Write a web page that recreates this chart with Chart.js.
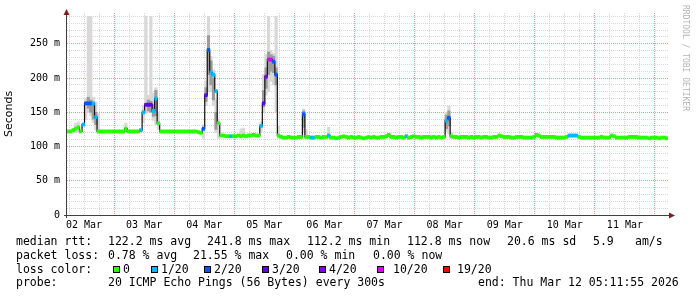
<!DOCTYPE html>
<html>
<head>
<meta charset="utf-8">
<script src="https://cdn.jsdelivr.net/npm/chart.js@4.4.1/dist/chart.umd.min.js"></script>
<style>
body{margin:0;background:#fff;}
#wrap{position:relative;width:697px;height:297px;font-family:'DejaVu Sans Mono',monospace;color:#000;overflow:hidden;}
#wrap canvas{position:absolute;left:0;top:0;}
.t{position:absolute;font-size:11.5px;line-height:13px;white-space:pre;}
.box{position:absolute;width:5px;height:5px;border:1px solid #000;}
#credit{position:absolute;left:681px;top:5px;writing-mode:vertical-rl;font-size:8px;line-height:9px;color:#b4b4b4;white-space:pre;}
</style>
</head>
<body>
<div id="wrap">
  <canvas id="SmokeChart" width="697" height="297"></canvas>
  <div id="credit">RRDTOOL / TOBI OETIKER</div>
</div>
<script>
// one slot = 1 hour, slot 0 starts Mon Mar 02 05:12
const median = [
  122,122,124,126,128,122,132,163,163,163,163,143,122,122,122,122,122,122,122,122,122,122,122,126,
  122,122,122,122,122,124,150,161,161,161,152,170,134,122,122,122,122,122,122,122,122,122,122,122,
  122,122,122,122,121,120,126,175,241,208,205,181,134,116,116,115,115,115,115,115,116,115,116,115,
  116,116,117,116,116,130,163,202,227,227,224,205,116,114,113,113,114,113,113,113,114,114,147,114,
  114,113,113,114,114,113,114,114,116,113,113,112,113,114,115,114,113,114,113,113,114,113,112,113,
  114,113,114,113,113,114,114,115,117,114,114,113,114,114,113,115,113,114,115,114,114,113,114,114,
  114,113,114,113,114,113,114,138,142,115,114,114,113,114,114,114,113,114,113,114,114,113,114,114,
  113,113,114,114,116,115,114,114,114,113,113,114,114,114,113,113,113,113,114,117,116,114,114,114,
  114,114,114,113,113,113,113,114,116,116,116,116,114,113,113,113,113,113,113,113,113,114,113,113,
  113,116,115,113,113,113,113,113,114,114,114,114,113,113,113,113,112,113,113,113,112,113,113,112
];

// lost pings out of 20 per slot
const loss = [
  0,0,0,0,0,0,1,2,2,2,1,1,0,0,0,0,0,0,0,0,0,0,0,0,
  0,0,0,0,0,1,1,3,3,3,1,1,0,0,0,0,0,0,0,0,0,0,0,0,
  0,0,0,0,0,0,2,3,2,1,1,1,0,0,0,0,0,1,0,0,0,0,0,0,
  0,0,0,0,0,1,3,4,10,10,2,2,0,0,0,0,0,0,0,0,0,0,2,0,
  0,1,1,0,0,0,0,0,1,0,0,0,0,0,0,0,0,0,0,0,0,0,0,0,
  0,0,0,0,0,0,0,0,0,0,0,0,0,0,0,1,0,0,0,0,0,0,0,0,
  0,0,0,0,0,0,0,1,2,0,0,0,0,0,0,0,0,0,0,0,0,0,0,0,
  0,0,0,0,0,0,0,0,0,0,0,0,0,0,0,0,0,0,0,0,0,0,0,0,
  0,0,0,0,0,0,0,0,1,1,1,1,0,0,0,0,0,0,0,0,0,0,0,0,
  0,0,0,0,0,0,0,0,0,0,0,0,0,0,0,0,0,0,0,0,0,0,0,0
];

// smoke: [slot, lowest ping, highest ping]
const smokeOuter = [
  [3,120,134],[4,120,136],[7,140,170],[8,150,290],[9,145,290],[10,135,172],[11,124,165],[12,120,148],[23,121,134],
  [30,135,160],[31,148,290],[32,150,175],[33,150,290],[34,138,178],[35,132,186],[36,125,150],
  [54,112,132],[55,160,196],[56,180,290],[57,180,232],[58,160,212],[59,120,168],[60,112,140],[69,114,126],[70,114,127],
  [77,122,136],[78,150,205],[79,175,235],[80,180,290],[81,195,240],[82,190,236],[83,150,290],[84,112,130],
  [94,120,155],[95,112,125],[104,112,128],[151,122,150],[152,118,159],[153,112,121]
];
// denser part of the smoke around the median
const smokeInner = [
  [8,156,172],[9,150,168],[10,140,163],[11,132,150],
  [32,152,168],[33,150,166],[34,144,162],[35,145,182],
  [55,166,186],[56,205,262],[57,190,225],[58,168,200],[59,125,150],
  [78,158,182],[79,185,215],[80,205,238],[81,210,234],[82,208,232],[83,190,215],
  [94,128,152],[151,126,146],[152,130,152]
];

const lossLevels = [0, 1, 2, 3, 4, 10, 19];
const lossNames = ['0', '1/20', '2/20', '3/20', '4/20', '10/20', '19/20'];
const lossColors = ['#26ff00', '#00b8ff', '#0059ff', '#5e00ff', '#7e00ff', '#dd00ff', '#ff0000'];

const dayLabels = ['02 Mar','03 Mar','04 Mar','05 Mar','06 Mar','07 Mar','08 Mar','09 Mar','10 Mar','11 Mar'];
const yTickLabels = ['0','50 m','100 m','150 m','200 m','250 m'];

const firstMidnight = 18.8;   // hours from left edge to 03 Mar 00:00
const firstNoon = 6.8;        // hours from left edge to 02 Mar 12:00
const yMax = 295;

const MINOR = 'rgb(214,214,214)';
const MAJOR = 'rgb(230,150,150)';

function colorFor(n) {
  let c = lossColors[0];
  lossLevels.forEach((lv, i) => { if (n >= lv) c = lossColors[i]; });
  return c;
}
function spread(list) {
  const out = median.map(() => null);
  list.forEach(([k, lo, hi]) => { out[k] = [lo, hi]; });
  return out;
}
function isWhole(v) { return Math.abs(v - Math.round(v)) < 1e-6; }

const slots = median.map((_, i) => i);

const axesArrows = {
  id: 'axesArrows',
  afterDatasetsDraw(chart) {
    const {ctx, chartArea: a} = chart;
    ctx.save();
    ctx.strokeStyle = '#404040';
    ctx.lineWidth = 1;
    ctx.beginPath();
    ctx.moveTo(a.left - 3, a.bottom + 0.5); ctx.lineTo(a.right + 2, a.bottom + 0.5);
    ctx.moveTo(a.left - 0.5, a.bottom + 3); ctx.lineTo(a.left - 0.5, a.top - 2);
    ctx.stroke();
    ctx.fillStyle = '#7f1f1f';
    ctx.beginPath();
    ctx.moveTo(a.right + 7, a.bottom + 0.5); ctx.lineTo(a.right + 1, a.bottom - 2.5); ctx.lineTo(a.right + 1, a.bottom + 3.5);
    ctx.fill();
    ctx.beginPath();
    ctx.moveTo(a.left - 0.5, a.top - 4); ctx.lineTo(a.left - 3.5, a.top + 2); ctx.lineTo(a.left + 2.5, a.top + 2);
    ctx.fill();
    ctx.restore();
  }
};

const barBase = {type: 'bar', grouped: false, barPercentage: 1, categoryPercentage: 1, xAxisID: 'x', yAxisID: 'y'};

var SmokeChart = new Chart(document.getElementById('SmokeChart'), {
  type: 'bar',
  data: {
    labels: slots,
    datasets: [
      Object.assign({}, barBase, {label: 'smoke', data: spread(smokeOuter), backgroundColor: '#d8d8d8', order: 5}),
      Object.assign({}, barBase, {label: 'smoke core', data: spread(smokeInner), backgroundColor: '#9c9c9c', order: 4}),
      {type: 'line', label: 'median', data: median, borderColor: '#111', borderWidth: 1.2,
       stepped: 'middle', pointRadius: 0, xAxisID: 'x', yAxisID: 'y', order: 2},
      Object.assign({}, barBase, {label: 'loss', data: median.map(v => [v - 2.3, v + 2.3]),
       backgroundColor: loss.map(colorFor), order: 1})
    ]
  },
  options: {
    responsive: false,
    animation: false,
    events: [],
    layout: {padding: {top: 12, right: 29, left: 0, bottom: 0}},
    plugins: {legend: {display: false}, tooltip: {enabled: false}},
    scales: {
      x: {type: 'category', display: false, offset: true},
      xt: {
        type: 'linear', position: 'bottom', min: 0, max: median.length,
        offset: false,
        afterBuildTicks: s => {
          const t = [];
          for (let h = firstMidnight % 6; h <= median.length; h += 6) t.push({value: h});
          s.ticks = t;
        },
        afterFit: s => { s.height = 82; },
        ticks: {
          autoSkip: false, maxRotation: 0, padding: 4, color: '#000',
          font: {family: "'DejaVu Sans Mono', monospace", size: 10},
          callback: v => {
            const d = (v - firstNoon) / 24;
            return isWhole(d) && dayLabels[Math.round(d)] ? dayLabels[Math.round(d)] : '';
          }
        },
        grid: {
          offset: false, drawTicks: false, lineWidth: 1,
          color: c => isWhole((c.tick.value - firstMidnight) / 24) ? MAJOR : MINOR,
          borderDash: [1, 1]
        },
        border: {display: false, dash: [1, 1]}
      },
      y: {
        type: 'linear', position: 'left', min: 0, max: yMax,
        afterBuildTicks: s => {
          const t = [];
          for (let v = 0; v < yMax; v += 10) t.push({value: v});
          s.ticks = t;
        },
        afterFit: s => { s.width = 67; },
        title: {display: true, text: 'Seconds', color: '#000',
                font: {family: "'DejaVu Sans', sans-serif", size: 11}, padding: {top: 3, bottom: 0}},
        ticks: {
          autoSkip: false, padding: 7, color: '#000',
          font: {family: "'DejaVu Sans Mono', monospace", size: 10},
          callback: v => v % 50 === 0 ? yTickLabels[v / 50] : ''
        },
        grid: {
          drawTicks: false, lineWidth: 1,
          color: c => c.tick.value === 0 ? 'rgba(0,0,0,0)' : (c.tick.value % 50 === 0 ? MAJOR : MINOR),
          borderDash: [1, 1]
        },
        border: {display: false, dash: [1, 1]}
      }
    }
  },
  plugins: [axesArrows]
});

// statistics and legend under the graph
const wrap = document.getElementById('wrap');
function put(x, top, text) {
  const d = document.createElement('div');
  d.className = 't';
  d.style.left = x + 'px';
  d.style.top = top + 'px';
  d.textContent = text;
  wrap.appendChild(d);
}
const rows = [
  [235.3, [[16,'median rtt:'],[108,'122.2 ms avg'],[207,'241.8 ms max'],[307,'112.2 ms min'],[407,'112.8 ms now'],[507,'20.6 ms sd'],[593,'5.9'],[635,'am/s']]],
  [248.6, [[16,'packet loss:'],[108,'0.78 % avg'],[193,'21.55 % max'],[286,'0.00 % min'],[373,'0.00 % now']]],
  [262.9, [[16,'loss color:']]],
  [276.3, [[16,'probe:'],[108,'20 ICMP Echo Pings (56 Bytes) every 300s'],[478,'end: Thu Mar 12 05:11:55 2026']]]
];
rows.forEach(([top, parts]) => parts.forEach(([x, s]) => put(x, top, s)));

const boxX = [113, 151, 204, 262, 319, 377, 443];
const nameX = [123, 161, 214, 272, 329, 393, 457];
lossNames.forEach((name, i) => {
  const b = document.createElement('div');
  b.className = 'box';
  b.style.left = boxX[i] + 'px';
  b.style.top = '265.5px';
  b.style.background = lossColors[i];
  wrap.appendChild(b);
  put(nameX[i], 262.9, name);
});
</script>
</body>
</html>
